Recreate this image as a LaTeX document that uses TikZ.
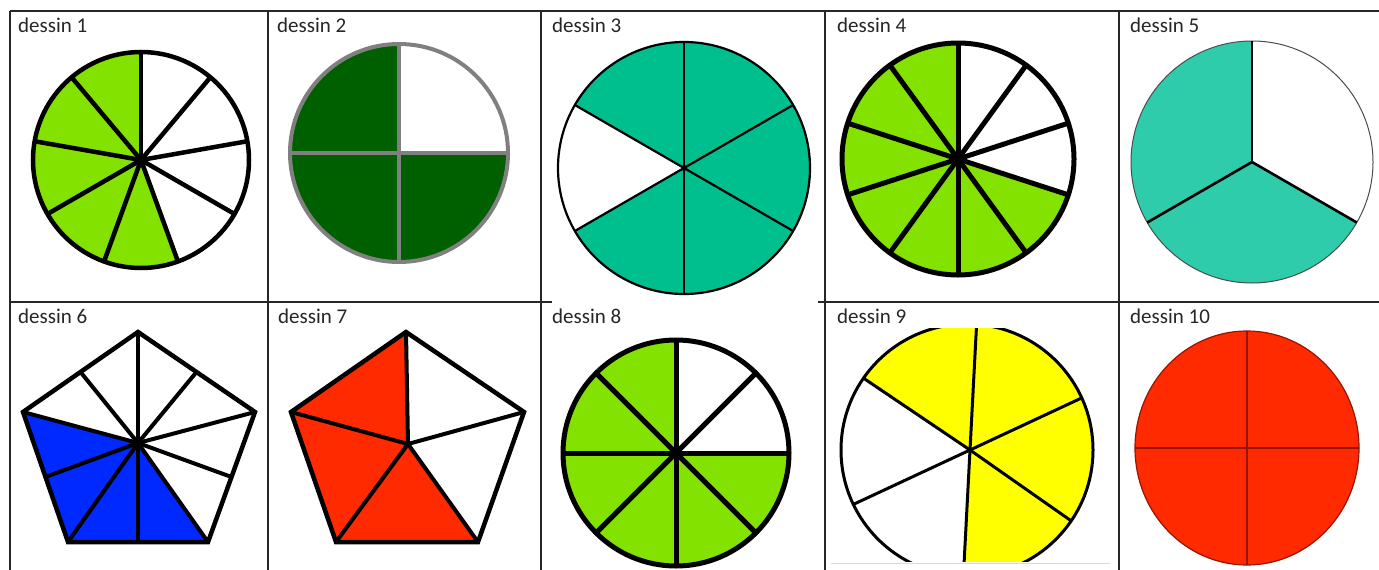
\documentclass[tikz,border=0pt]{standalone}
\usepackage{fontspec}
\setmainfont{Carlito}
\usetikzlibrary{calc}

\definecolor{vertpomme}{RGB}{132,226,0}
\definecolor{vertfonce}{RGB}{0,96,0}
\definecolor{turquoise}{RGB}{0,191,143}
\definecolor{turquoiseclair}{RGB}{46,204,170}
\definecolor{bleuvif}{RGB}{0,41,255}
\definecolor{rougevif}{RGB}{255,42,0}
\definecolor{jaunevif}{RGB}{255,255,0}
\definecolor{rougefonce}{RGB}{150,20,0}

\begin{document}
\begin{tikzpicture}[x=1pt, y=-1pt,
  cellline/.style={line width=1.3pt, draw=black!85},
  titre/.style={anchor=base west, inner sep=0pt, text=black!85,
                font=\fontsize{21}{25}\selectfont},
  spoke/.style={line width=4.5pt},
  rim/.style={line width=4.5pt}]

  \useasboundingbox (0,0) rectangle (1379,570);
  \fill[white] (0,0) rectangle (1379,570);

  % ----------------------------------------------------------------
  % Table: borders and titles
  % ----------------------------------------------------------------
  \draw[cellline] (10,11) -- (1379,11);
  \draw[cellline] (10,11) -- (10,570);
  \foreach \x in {268,541,825,1119} {
    \draw[cellline] (\x,11) -- (\x,570);
  }
  % row line (hidden behind dessin 3 in the middle)
  \draw[cellline] (10,302) -- (552,302);
  \draw[cellline] (818,302) -- (1379,302);

  \foreach \n/\x in {1/18, 2/277, 3/552, 4/837, 5/1130} {
    \node[titre] (d\n) at (\x,32) {dessin \n};
  }
  \foreach \n/\x in {6/18, 7/278, 8/552, 9/837, 10/1130} {
    \node[titre] (d\n) at (\x,323) {dessin \n};
  }

  % ----------------------------------------------------------------
  % Dessin 1: 9 parts, 5 coloured
  % ----------------------------------------------------------------
  \begin{scope}[shift={(141,160)}, yscale=-1]
    \def\rad{108}
    \fill[vertpomme] (0,0) -- (90:\rad) arc (90:290:\rad) -- cycle;
    \foreach \i in {0,...,8} {
      \draw[spoke] (0,0) -- ({90+40*\i}:\rad);
    }
    \draw[rim] (0,0) circle (\rad);
    \fill (0,0) circle (6);
  \end{scope}

  % ----------------------------------------------------------------
  % Dessin 2: 4 parts, 3 coloured
  % ----------------------------------------------------------------
  \begin{scope}[shift={(399,153)}, yscale=-1]
    \def\rad{109}
    \fill[vertfonce] (0,0) -- (90:\rad) arc (90:360:\rad) -- cycle;
    \draw[line width=4pt, gray] (0,\rad) -- (0,-\rad) (-\rad,0) -- (\rad,0);
    \draw[line width=4pt, gray] (0,0) circle (\rad);
  \end{scope}

  % ----------------------------------------------------------------
  % Dessin 3: 6 parts, 5 coloured
  % ----------------------------------------------------------------
  \begin{scope}[shift={(684,168)}, yscale=-1]
    \def\rad{126}
    \fill[turquoise] (0,0) -- (210:\rad) arc (210:510:\rad) -- cycle;
    \foreach \a in {30,90,...,330} {
      \draw[line width=2.2pt] (0,0) -- (\a:\rad);
    }
    \draw[line width=2.2pt] (0,0) circle (\rad);
    \fill (0,0) circle (3);
  \end{scope}

  % ----------------------------------------------------------------
  % Dessin 4: 10 parts, 7 coloured
  % ----------------------------------------------------------------
  \begin{scope}[shift={(958,159)}, yscale=-1]
    \def\rad{116}
    \fill[vertpomme] (0,0) -- (90:\rad) arc (90:342:\rad) -- cycle;
    \foreach \i in {0,...,9} {
      \draw[line width=5pt] (0,0) -- ({90-36*\i}:\rad);
    }
    \draw[line width=5pt] (0,0) circle (\rad);
    \fill (0,0) circle (7);
  \end{scope}

  % ----------------------------------------------------------------
  % Dessin 5: 3 parts, 2 coloured
  % ----------------------------------------------------------------
  \begin{scope}[shift={(1252,162)}, yscale=-1]
    \def\rad{121}
    \fill[turquoiseclair] (0,0) -- (90:\rad) arc (90:330:\rad) -- cycle;
    \draw[line width=1pt, black!70] (0,0) circle (\rad);
    \foreach \a in {90,210,330} {
      \draw[line width=2.6pt] (0,0) -- (\a:\rad);
    }
  \end{scope}

  % ----------------------------------------------------------------
  % Dessin 6: pentagon, 10 parts, 4 coloured
  % ----------------------------------------------------------------
  \coordinate (p6c)  at (138,443);
  \coordinate (p6t)  at (138,332);
  \coordinate (p6ur) at (255,412);
  \coordinate (p6lr) at (208,542);
  \coordinate (p6ll) at (68,542);
  \coordinate (p6ul) at (23,412);
  \fill[bleuvif] (p6c) -- (p6ul) -- (p6ll) -- (p6lr) -- cycle;
  \foreach \a/\b in {t/ur, ur/lr, lr/ll, ll/ul, ul/t} {
    \draw[line width=4pt] (p6c) -- (p6\a);
    \draw[line width=4pt] (p6c) -- ($(p6\a)!0.5!(p6\b)$);
  }
  \draw[line width=4.5pt, line join=miter]
    (p6t) -- (p6ur) -- (p6lr) -- (p6ll) -- (p6ul) -- cycle;

  % ----------------------------------------------------------------
  % Dessin 7: pentagon, 5 parts, 3 coloured
  % ----------------------------------------------------------------
  \coordinate (p7c)  at (408,444);
  \coordinate (p7t)  at (406,332);
  \coordinate (p7ur) at (524,412);
  \coordinate (p7lr) at (478,542);
  \coordinate (p7ll) at (336,542);
  \coordinate (p7ul) at (291,412);
  \fill[rougevif] (p7c) -- (p7t) -- (p7ul) -- (p7ll) -- (p7lr) -- cycle;
  \foreach \a in {t,ur,lr,ll,ul} {
    \draw[line width=4pt] (p7c) -- (p7\a);
  }
  \draw[line width=4.5pt, line join=miter]
    (p7t) -- (p7ur) -- (p7lr) -- (p7ll) -- (p7ul) -- cycle;

  % ----------------------------------------------------------------
  % Dessin 8: 8 parts, 6 coloured
  % ----------------------------------------------------------------
  \begin{scope}[shift={(676,453)}, yscale=-1]
    \def\rad{113}
    \fill[vertpomme] (0,0) -- (90:\rad) arc (90:360:\rad) -- cycle;
    \foreach \a in {0,45,...,315} {
      \draw[line width=5pt] (0,0) -- (\a:\rad);
    }
    \draw[line width=5pt] (0,0) circle (\rad);
    \fill (0,0) circle (5);
  \end{scope}

  % ----------------------------------------------------------------
  % Dessin 9: 6 parts, 4 coloured (cut at top and bottom)
  % ----------------------------------------------------------------
  \begin{scope}
    \clip (830,328) rectangle (1112,561);
    \begin{scope}
      \clip (967,450) circle (126);
      \begin{scope}[shift={(970,450)}, yscale=-1]
        \fill[jaunevif] (0,0) -- (-93:200) -- (-35:200) -- (25:200)
          -- (87:200) -- (146:200) -- cycle;
        \foreach \a in {87,25,-35,-93,-155,146} {
          \draw[line width=3pt] (0,0) -- (\a:200);
        }
      \end{scope}
    \end{scope}
    \draw[line width=3pt] (967,450) circle (126);
  \end{scope}
  \draw[black!15, line width=1pt] (831,563) -- (1110,563);

  % ----------------------------------------------------------------
  % Dessin 10: 4 parts, all coloured
  % ----------------------------------------------------------------
  \fill[rougevif, draw=rougefonce, line width=1.2pt]
    (1247,448) ellipse [x radius=112, y radius=117];
  \draw[rougefonce, line width=1.5pt]
    (1247,331) -- (1247,565) (1135,448) -- (1359,448);

\end{tikzpicture}
\end{document}
